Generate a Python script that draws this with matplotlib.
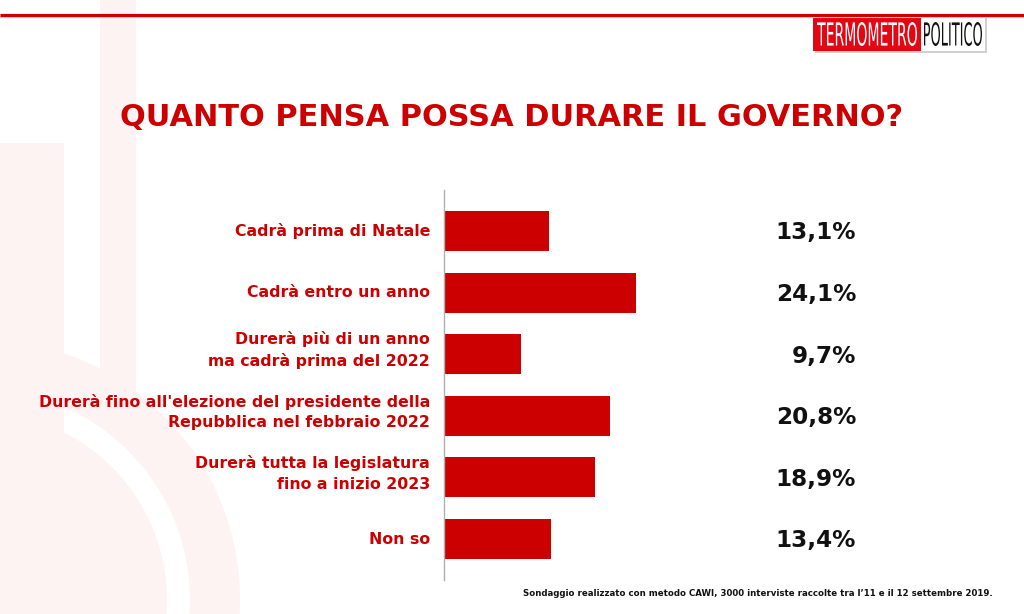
import matplotlib
matplotlib.use("Agg")
import matplotlib.pyplot as plt
from matplotlib.patches import Rectangle, Circle, Wedge, PathPatch
from matplotlib.textpath import TextPath
from matplotlib.font_manager import FontProperties
from matplotlib.transforms import Affine2D, ScaledTranslation

categories = [
    "Cadrà prima di Natale",
    "Cadrà entro un anno",
    "Durerà più di un anno\nma cadrà prima del 2022",
    "Durerà fino all'elezione del presidente della\nRepubblica nel febbraio 2022",
    "Durerà tutta la legislatura\nfino a inizio 2023",
    "Non so",
]
values = [13.1, 24.1, 9.7, 20.8, 18.9, 13.4]
value_labels = ["13,1%", "24,1%", "9,7%", "20,8%", "18,9%", "13,4%"]
title = "QUANTO PENSA POSSA DURARE IL GOVERNO?"
footnote = "Sondaggio realizzato con metodo CAWI, 3000 interviste raccolte tra l’11 e il 12 settembre 2019."

RED = "#cc0000"
PINK = "#fdf3f3"
W, H = 1024, 614
FONT = "DejaVu Sans"

fig = plt.figure(figsize=(W / 100, H / 100), dpi=100)
fig.patch.set_facecolor("white")

# background layer in pixel coordinates (y from bottom)
bg = fig.add_axes([0, 0, 1, 1], zorder=0)
bg.set_xlim(0, W)
bg.set_ylim(0, H)
bg.axis("off")

def Y(y):
    return H - y

# watermark
bg.add_patch(Wedge((-21, Y(600)), 261, 0, 360, width=50, facecolor=PINK, edgecolor="none"))
bg.add_patch(Rectangle((100, Y(400)), 36, 400, facecolor=PINK, edgecolor="none"))
bg.add_patch(Circle((-21, Y(600)), 188, facecolor=PINK, edgecolor="none"))
bg.add_patch(Rectangle((0, 0), 64, Y(143), facecolor=PINK, edgecolor="none"))

# top red line
bg.plot([0, W], [Y(16.5), Y(16.5)], color="#dddddd", lw=1.5, solid_capstyle="butt")
bg.plot([0, W], [Y(14.5), Y(14.5)], color=RED, lw=2.3, solid_capstyle="butt")

# logo
bg.add_patch(Rectangle((815, Y(53)), 172, 37, facecolor="#d0d0d0", edgecolor="none"))
bg.add_patch(Rectangle((813, Y(51)), 108, 36, facecolor="#e30613", edgecolor="none"))
bg.add_patch(Rectangle((921, Y(51)), 64, 36, facecolor="white", edgecolor="none"))

def squeezed_text(s, x0, x1, ybot, ytop, color):
    tp = TextPath((0, 0), s, size=10, prop=FontProperties(family=FONT))
    ext = tp.get_extents()
    sx = (x1 - x0) / ext.width
    sy = (ytop - ybot) / ext.height
    tr = Affine2D().translate(-ext.x0, -ext.y0).scale(sx, sy).translate(x0, ybot)
    bg.add_patch(PathPatch(tr.transform_path(tp), facecolor=color, edgecolor="none"))

squeezed_text("TERMOMETRO", 817, 917, Y(46), Y(22), "white")
squeezed_text("POLITICO", 924, 982, Y(46), Y(22), "#111111")

# title
fig.text(512 / W, 1 - 117 / H, title, ha="center", va="center", color=RED,
         fontsize=21.9, fontweight="bold", family=FONT)

# footnote
fig.text(993 / W, 1 - 594 / H, footnote, ha="right", va="center", color="#111111",
         fontsize=6.2, fontweight="bold", family=FONT)

# main bar chart
ax_left, ax_right, ax_top, ax_bot = 444, 900, 190, 580
ax = fig.add_axes([ax_left / W, 1 - ax_bot / H, (ax_right - ax_left) / W, (ax_bot - ax_top) / H], zorder=2)
ax.patch.set_alpha(0)
px_per_unit = 7.98
ax.set_xlim(0, (ax_right - ax_left) / px_per_unit)
spacing = 61.6
pos = list(range(len(categories)))
ax.set_ylim(len(categories) - 1 + 41 / spacing, -41 / spacing)
ax.barh(pos, values, height=40 / spacing, color=RED, edgecolor="none")
for i, lab in enumerate(value_labels):
    ax.text((856 - ax_left) / px_per_unit, i + 2 / spacing, lab, ha="right", va="center",
            fontsize=16.7, fontweight="bold", color="#111111", family=FONT)

ytr = ax.get_yaxis_transform()
for i, cat in enumerate(categories):
    dy = 4 if "\n" in cat else 0
    ax.text(0, i, cat, transform=ytr + ScaledTranslation(-14 / 100, dy / 100, fig.dpi_scale_trans),
            ha="right", va="center", multialignment="right", color=RED,
            fontsize=11.35, fontweight="bold", family=FONT, linespacing=1.45)

ax.set_yticks([])
ax.set_xticks([])
for s in ["top", "right", "bottom"]:
    ax.spines[s].set_visible(False)
ax.spines["left"].set_color("#b0b0b0")
ax.spines["left"].set_linewidth(1)

fig.savefig("out.png", dpi=100, facecolor="white")
